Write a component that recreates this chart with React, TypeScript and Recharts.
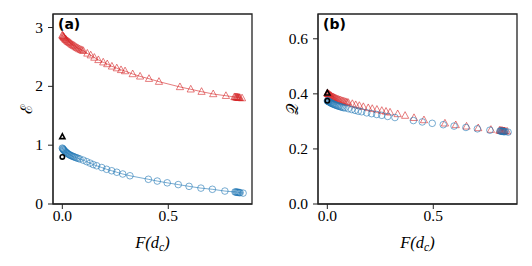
import { ComposedChart, Scatter, XAxis, YAxis, ReferenceArea, Label } from "recharts";

// F(d_c) values and the two measures for each series
const redX = [
  0, 0.002, 0.004, 0.006, 0.008, 0.011, 0.014, 0.017, 0.02, 0.024, 0.028, 0.032, 0.036, 0.041, 0.046, 0.051,
  0.056, 0.062, 0.068, 0.074, 0.08, 0.087, 0.093,
  0.099, 0.118, 0.134, 0.151, 0.17, 0.193, 0.212, 0.234, 0.257, 0.277, 0.296, 0.332, 0.367, 0.409, 0.456,
  0.555, 0.606, 0.657, 0.712, 0.772,
  0.812, 0.816, 0.82, 0.823, 0.826, 0.829, 0.832, 0.835, 0.838, 0.848,
];
const redE = [
  2.87, 2.86, 2.85, 2.84, 2.83, 2.82, 2.805, 2.795, 2.785, 2.77, 2.76, 2.75, 2.74, 2.725, 2.71, 2.7,
  2.69, 2.675, 2.66, 2.65, 2.635, 2.625, 2.615,
  2.605, 2.56, 2.53, 2.49, 2.45, 2.41, 2.38, 2.34, 2.31, 2.28, 2.26, 2.21, 2.17, 2.13, 2.08,
  1.99, 1.95, 1.91, 1.87, 1.84,
  1.82, 1.818, 1.816, 1.814, 1.812, 1.81, 1.808, 1.806, 1.805, 1.8,
];
const redQ = [
  0.4025, 0.401, 0.4, 0.399, 0.398, 0.396, 0.394, 0.393, 0.391, 0.389, 0.388, 0.386, 0.385, 0.383, 0.381, 0.38,
  0.378, 0.377, 0.375, 0.374, 0.372, 0.371, 0.369,
  0.368, 0.364, 0.36, 0.357, 0.353, 0.349, 0.346, 0.343, 0.339, 0.336, 0.333, 0.327, 0.321, 0.313, 0.305,
  0.293, 0.287, 0.282, 0.276, 0.27,
  0.267, 0.267, 0.266, 0.266, 0.266, 0.265, 0.265, 0.265, 0.265, 0.264,
];

const blueX = [
  0, 0.002, 0.004, 0.006, 0.008, 0.011, 0.014, 0.017, 0.02, 0.024, 0.028, 0.032, 0.036, 0.041, 0.046, 0.051,
  0.056, 0.062, 0.068, 0.075,
  0.083, 0.099, 0.115, 0.131, 0.146, 0.162, 0.186, 0.209, 0.233, 0.257, 0.285, 0.319, 0.406, 0.448, 0.495,
  0.547, 0.598, 0.654, 0.708, 0.767,
  0.815, 0.819, 0.823, 0.827, 0.831, 0.835, 0.839, 0.853,
];
const blueE = [
  0.95, 0.94, 0.93, 0.92, 0.912, 0.9, 0.89, 0.88, 0.87, 0.86, 0.85, 0.84, 0.832, 0.823, 0.815, 0.808,
  0.8, 0.792, 0.784, 0.775,
  0.765, 0.745, 0.72, 0.695, 0.67, 0.65, 0.62, 0.59, 0.565, 0.54, 0.51, 0.48, 0.42, 0.39, 0.36,
  0.33, 0.3, 0.27, 0.25, 0.22,
  0.205, 0.203, 0.201, 0.199, 0.197, 0.195, 0.193, 0.185,
];
const blueQ = [
  0.3745, 0.374, 0.373, 0.372, 0.371, 0.37, 0.368, 0.367, 0.366, 0.364, 0.363, 0.362, 0.36, 0.359, 0.357, 0.356,
  0.355, 0.353, 0.352, 0.35,
  0.349, 0.346, 0.343, 0.34, 0.337, 0.335, 0.331, 0.328, 0.325, 0.322, 0.318, 0.314, 0.303, 0.298, 0.293,
  0.288, 0.283, 0.278, 0.273, 0.268,
  0.265, 0.265, 0.264, 0.264, 0.263, 0.263, 0.263, 0.261,
];

// black reference markers at F = 0
const refX = [0];
const refTriangleE = [1.145];
const refCircleE = [0.8];
const refTriangleQ = [0.403];
const refCircleQ = [0.375];

const xTicks = [0, 0.5];
const eTicks = [0, 1, 2, 3];
const qTicks = [0, 0.2, 0.4, 0.6];

const RED = "#d62728";
const BLUE = "#1f77b4";
const SERIF = "'Liberation Serif', 'DejaVu Serif', serif";
const X_DOMAIN: [number, number] = [-0.044, 0.895];

const zip = (xs: number[], ys: number[]) => xs.map((x, i) => ({ x, y: ys[i] }));

const triangle = (color: string, opacity: number, width: number, s: number) => (props: any) => {
  const { cx, cy } = props;
  const pts = `${cx},${cy - s * 1.1} ${cx - s},${cy + s * 0.75} ${cx + s},${cy + s * 0.75}`;
  return <polygon points={pts} fill="none" stroke={color} strokeOpacity={opacity} strokeWidth={width} />;
};

const circle = (color: string, opacity: number, width: number, r: number) => (props: any) => {
  const { cx, cy } = props;
  return <circle cx={cx} cy={cy} r={r} fill="none" stroke={color} strokeOpacity={opacity} strokeWidth={width} />;
};

const serifText = { fontFamily: SERIF, fontSize: 15.5 };

// tick text drawn by hand so the serif font sticks
const XTick = (props: any) => {
  const { x, y, payload } = props;
  return (
    <text x={x} y={y + 11} textAnchor="middle" style={serifText} fill="#000">
      {Number(payload.value).toFixed(1)}
    </text>
  );
};

const YTick = (decimals: number) => (props: any) => {
  const { x, y, payload } = props;
  return (
    <text x={x} y={y + 5} textAnchor="end" style={serifText} fill="#000">
      {Number(payload.value).toFixed(decimals)}
    </text>
  );
};

function XLabel(props: any) {
  const { viewBox } = props;
  const cx = viewBox.x + viewBox.width / 2;
  return (
    <text x={cx} y={viewBox.y + 44} textAnchor="middle" style={{ fontFamily: SERIF, fontSize: 16.5, fontStyle: "italic" }} fill="#000">
      F(d<tspan style={{ fontSize: 11.5 }} dy={3}>c</tspan>
      <tspan dy={-3}>)</tspan>
    </text>
  );
}

function YLabel(props: any) {
  const { viewBox, text, x } = props;
  const cy = viewBox.y + viewBox.height / 2;
  return (
    <text x={x} y={cy} transform={`rotate(-90 ${x} ${cy})`} textAnchor="middle" dominantBaseline="central"
      style={{ fontFamily: "'DejaVu Serif', serif", fontSize: 16 }} fill="#000">
      {text}
    </text>
  );
}

interface PanelProps {
  tag: string;
  yLabel: string;
  yLabelX: number;
  yDomain: [number, number];
  yTicks: number[];
  yDecimals: number;
  yAxisWidth: number;
  rightMargin: number;
  redY: number[];
  blueY: number[];
  triY: number[];
  circY: number[];
  lines: boolean;
}

function Panel({ tag, yLabel, yLabelX, yDomain, yTicks, yDecimals, yAxisWidth, rightMargin, redY, blueY, triY, circY, lines }: PanelProps) {
  const redLine = lines ? { stroke: RED, strokeOpacity: 0.6, strokeWidth: 1 } : false;
  const blueLine = lines ? { stroke: BLUE, strokeOpacity: 0.6, strokeWidth: 1 } : false;
  return (
    <ComposedChart width={266} height={266} margin={{ top: 14, right: rightMargin, bottom: 0, left: 0 }}>
      <XAxis type="number" dataKey="x" domain={X_DOMAIN} ticks={xTicks} allowDataOverflow
        tick={<XTick />} tickSize={5} tickMargin={1}
        axisLine={{ stroke: "#222" }} tickLine={{ stroke: "#222" }} height={62}>
        <Label content={<XLabel />} />
      </XAxis>
      <YAxis type="number" dataKey="y" domain={yDomain} ticks={yTicks} allowDataOverflow
        tick={YTick(yDecimals)} tickSize={5} tickMargin={5} width={yAxisWidth}
        axisLine={{ stroke: "#222" }} tickLine={{ stroke: "#222" }}>
        <Label content={<YLabel text={yLabel} x={yLabelX} />} />
      </YAxis>
      <ReferenceArea x1={X_DOMAIN[0]} x2={X_DOMAIN[1]} y1={yDomain[0]} y2={yDomain[1]}
        fill="none" stroke="#222" strokeWidth={1.3} ifOverflow="visible" />
      <Scatter data={zip(redX, redY)} line={redLine} lineType="joint"
        shape={triangle(RED, 0.6, 1, 3.6)} isAnimationActive={false} />
      <Scatter data={zip(blueX, blueY)} line={blueLine} lineType="joint"
        shape={circle(BLUE, 0.6, 1, 3.3)} isAnimationActive={false} />
      <Scatter data={zip(refX, triY)} shape={triangle("#000", 1, 1.6, 2.6)} isAnimationActive={false} />
      <Scatter data={zip(refX, circY)} shape={circle("#000", 1, 1.6, 2.2)} isAnimationActive={false} />
      <text x={yAxisWidth + 5} y={29} style={{ fontFamily: "'DejaVu Sans', sans-serif", fontWeight: "bold", fontSize: 14 }} fill="#000">
        {tag}
      </text>
    </ComposedChart>
  );
}

export default function App() {
  return (
    <div style={{ position: "absolute", left: 0, top: 0, width: 532, height: 266, background: "#fff" }}>
      <div style={{ position: "absolute", left: 0, top: 0 }}>
        <Panel tag="(a)" yLabel="ℰ" yLabelX={20} yDomain={[0, 3.23]} yTicks={eTicks} yDecimals={0} yAxisWidth={53}
          rightMargin={14} redY={redE} blueY={blueE} triY={refTriangleE} circY={refCircleE} lines />
      </div>
      <div style={{ position: "absolute", left: 266, top: 0 }}>
        <Panel tag="(b)" yLabel="𝒬" yLabelX={8} yDomain={[0, 0.69]} yTicks={qTicks} yDecimals={1} yAxisWidth={52}
          rightMargin={15} redY={redQ} blueY={blueQ} triY={refTriangleQ} circY={refCircleQ} lines={false} />
      </div>
    </div>
  );
}
